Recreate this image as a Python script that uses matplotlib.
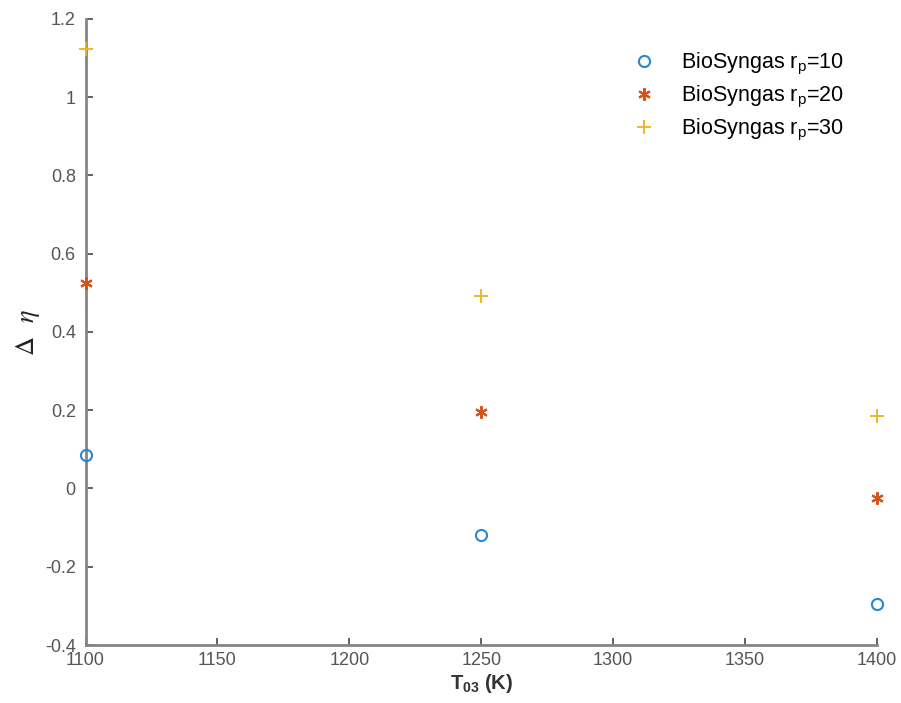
import numpy as np
import matplotlib
matplotlib.use("Agg")
import matplotlib.pyplot as plt

plt.rcParams['font.family'] = ['Liberation Sans', 'DejaVu Sans']
plt.rcParams['mathtext.fontset'] = 'custom'
plt.rcParams['mathtext.rm'] = 'Liberation Sans'
plt.rcParams['mathtext.bf'] = 'Liberation Sans:bold'

# data
t03 = [1100, 1250, 1400]
d_eta_rp10 = [0.085, -0.120, -0.296]
d_eta_rp20 = [0.525, 0.195, -0.025]
d_eta_rp30 = [1.123, 0.492, 0.185]
labels = ["BioSyngas r$_\\mathrm{p}$=10",
          "BioSyngas r$_\\mathrm{p}$=20",
          "BioSyngas r$_\\mathrm{p}$=30"]
xticks = [1100, 1150, 1200, 1250, 1300, 1350, 1400]
yticks = [-0.4, -0.2, 0, 0.2, 0.4, 0.6, 0.8, 1, 1.2]
ytick_labels = ["-0.4", "-0.2", "0", "0.2", "0.4", "0.6", "0.8", "1", "1.2"]

fig = plt.figure(figsize=(9.01, 7.03), dpi=100)
ax = fig.add_axes([0.0949, 0.0825, 0.8785, 0.8905])

ax.plot(t03, d_eta_rp10, linestyle='none', marker='o', markersize=8,
        markerfacecolor='none', markeredgecolor='#2B86D0', markeredgewidth=1.5,
        label=labels[0], clip_on=False, zorder=3)
ax.plot(t03, d_eta_rp20, linestyle='none', marker=(6, 2, 0), markersize=9,
        color='#D95319', markeredgewidth=1.5, label=labels[1],
        clip_on=False, zorder=3)
ax.plot(t03, d_eta_rp30, linestyle='none', marker='+', markersize=10,
        color='#EDB120', markeredgewidth=1.3, label=labels[2],
        clip_on=False, zorder=3)

ax.set_xlim(1100, 1400)
ax.set_ylim(-0.4, 1.2)
ax.set_xticks(xticks)
ax.set_yticks(yticks)
ax.set_yticklabels(ytick_labels)

for s in ['top', 'right']:
    ax.spines[s].set_visible(False)
for s in ['left', 'bottom']:
    ax.spines[s].set_color('#858585')
    ax.spines[s].set_linewidth(2)
ax.tick_params(direction='in', length=5, width=1.3, color='#555555',
               labelcolor='#555555', labelsize=13)
ax.tick_params(axis='y', pad=7)
ax.tick_params(axis='x', pad=5)

ax.set_xlabel("T$_\\mathbf{03}$ (K)", fontsize=14.5, fontweight='bold',
              color='#333333', labelpad=2)
ax.set_ylabel("$\\Delta$  $\\eta$", fontsize=19, color='#222222',
              math_fontfamily='stix', labelpad=2)

leg = ax.legend(loc='upper right', bbox_to_anchor=(0.983, 0.98), frameon=False,
                fontsize=15.5, handletextpad=1.0, labelspacing=0.32,
                handlelength=1.5)

fig.savefig("out.png", dpi=100)
